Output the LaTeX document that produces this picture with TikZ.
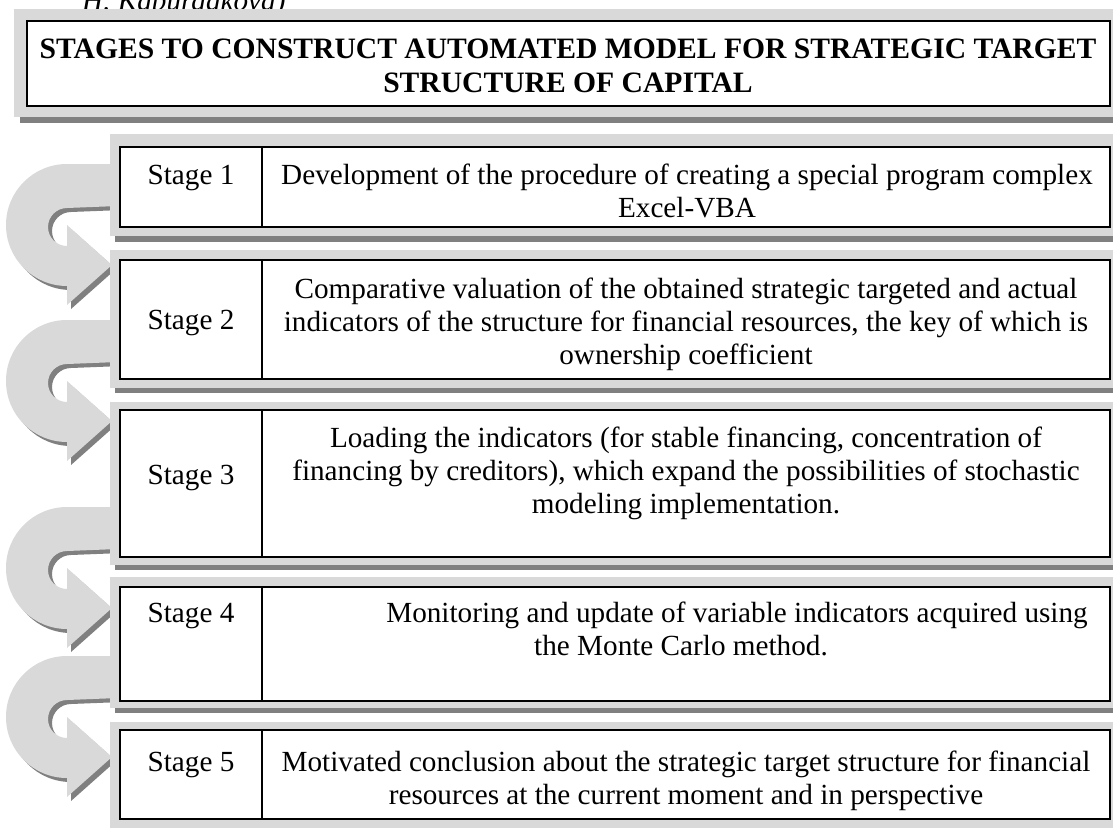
\documentclass[tikz,border=0pt]{standalone}
\usepackage{fontspec}
\setmainfont{Liberation Serif}
\usetikzlibrary{backgrounds}
\definecolor{framegray}{HTML}{D9D9D9}
\definecolor{shadegray}{HTML}{808080}
\newcommand{\mylines}[1]{\vtop{\halign{\hfil##\hfil\cr#1\crcr}}}
\tikzset{
  txt/.style={font=\fontsize{29.2}{33}\selectfont, inner sep=0pt, anchor=base},
  titletxt/.style={font=\fontsize{29.6}{34}\selectfont\bfseries, inner sep=0pt, anchor=base},
  srctxt/.style={font=\fontsize{29.2}{33}\selectfont\itshape, inner sep=0pt, anchor=base west},
  framefill/.style={fill=framegray, draw=none},
  shadefill/.style={fill=shadegray, draw=none},
  cellbox/.style={draw=black, line width=1.8pt, fill=white, inner sep=0pt, outer sep=0pt, anchor=north west},
  divider/.style={draw=black, line width=1.8pt},
  conn/.style={draw=black, line width=3.5pt},
}
\begin{document}
\begin{tikzpicture}[x=1pt, y=-1pt]
\useasboundingbox (0,0) rectangle (1113,827);
\clip (0,0) rectangle (1113,827);
\fill[white] (0,0) rectangle (1113,827);

% partially visible source line at the very top
\node[srctxt] (src) at (82,10) {H. Kaburdakova)};

% U-turn arrows between the stages (radii given in pt: canvas orientation)
\foreach \yt in {185,341,528,677}{
  \fill[shadefill, shift={(4,4)}] (118,\yt-21) -- (67,\yt-21)
     arc[start angle=90, end angle=270, radius=61pt] -- (67,\yt+120)
     -- (112,\yt+80) -- (67,\yt+40) -- (67,\yt+61)
     arc[start angle=270, end angle=90, radius=19pt] -- (118,\yt+21) -- cycle;
  \fill[framefill] (118,\yt-21) -- (67,\yt-21)
     arc[start angle=90, end angle=270, radius=61pt] -- (67,\yt+120)
     -- (112,\yt+80) -- (67,\yt+40) -- (67,\yt+61)
     arc[start angle=270, end angle=90, radius=19pt] -- (118,\yt+21) -- cycle;
}

% title box
\fill[shadefill] (20,15) rectangle (1130,123);
\fill[framefill] (14,9) rectangle (1130,117);
\node[cellbox, minimum width=1083, minimum height=85] (title) at (27,21) {};
\node[titletxt] (tt) at (568,58) {\mylines{STAGES TO CONSTRUCT AUTOMATED MODEL FOR STRATEGIC TARGET\cr STRUCTURE OF CAPITAL}};

% stage 1
\fill[shadefill] (115,140) rectangle (1130,242);
\fill[framefill] (110,134) rectangle (1130,236);
\node[cellbox, minimum width=990, minimum height=80] (s1) at (120,147) {};
\draw[divider] ([xshift=142pt]s1.north west) -- ([xshift=142pt]s1.south west);
\node[txt] (l1) at (191,184) {Stage 1};
\node[txt] (d1) at (687,184) {\mylines{Development of the procedure of creating a special program complex\cr Excel-VBA}};

% stage 2
\fill[shadefill] (115,256) rectangle (1130,393);
\fill[framefill] (110,250) rectangle (1130,388);
\node[cellbox, minimum width=990, minimum height=119] (s2) at (120,260) {};
\draw[divider] ([xshift=142pt]s2.north west) -- ([xshift=142pt]s2.south west);
\node[txt] (l2) at (191,329) {Stage 2};
\node[txt] (d2) at (686,298) {\mylines{Comparative valuation of the obtained strategic targeted and actual\cr indicators of the structure for financial resources, the key of which is\cr ownership coefficient}};

% stage 3
\fill[shadefill] (115,408) rectangle (1130,570);
\fill[framefill] (110,402) rectangle (1130,565);
\node[cellbox, minimum width=990, minimum height=147] (s3) at (120,410) {};
\draw[divider] ([xshift=142pt]s3.north west) -- ([xshift=142pt]s3.south west);
\node[txt] (l3) at (191,484) {Stage 3};
\node[txt] (d3) at (686,447) {\mylines{Loading the indicators (for stable financing, concentration of\cr financing by creditors), which expand the possibilities of stochastic\cr modeling implementation.}};

% stage 4
\fill[shadefill] (115,583) rectangle (1130,713);
\fill[framefill] (110,577) rectangle (1130,708);
\node[cellbox, minimum width=990, minimum height=114] (s4) at (120,587) {};
\draw[divider] ([xshift=142pt]s4.north west) -- ([xshift=142pt]s4.south west);
\node[txt] (l4) at (191,622) {Stage 4};
\node[txt] (d4) at (681,622) {\mylines{\hspace*{112pt}Monitoring and update of variable indicators acquired using\cr the Monte Carlo method.}};

% stage 5
\fill[shadefill] (115,728) rectangle (1130,845);
\fill[framefill] (110,722) rectangle (1130,840);
\node[cellbox, minimum width=990, minimum height=89] (s5) at (120,730) {};
\draw[divider] ([xshift=142pt]s5.north west) -- ([xshift=142pt]s5.south west);
\node[txt] (l5) at (191,771) {Stage 5};
\node[txt] (d5) at (686,771) {\mylines{Motivated conclusion about the strategic target structure for financial\cr resources at the current moment and in perspective}};

% connectors from title to stage 1 (behind the frames)
\coordinate (cl) at (188,0);
\coordinate (cr) at (1017,0);
\begin{pgfonlayer}{background}
  \draw[conn] (title.south -| cl) -- (s1.north -| cl);
  \draw[conn] (title.south -| cr) -- (s1.north -| cr);
\end{pgfonlayer}
\end{tikzpicture}
\end{document}
